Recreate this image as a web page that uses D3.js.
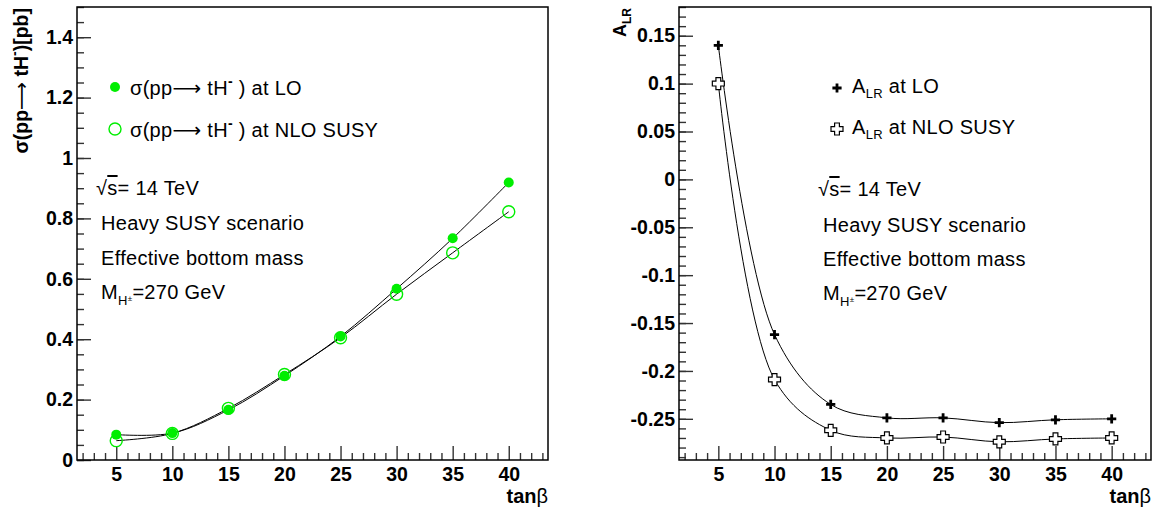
<!DOCTYPE html>
<html>
<head>
<meta charset="utf-8">
<script src="https://cdn.jsdelivr.net/npm/d3@7"></script>
<style>
body { margin: 0; background: #fff; }
svg text { font-family: "Liberation Sans", Arial, Helvetica, sans-serif; fill: #000; }
.arrow { font-family: "DejaVu Sans", sans-serif; }
</style>
</head>
<body>
<svg id="chart" width="1164" height="515"></svg>
<script>
// data
const tanBeta = [5, 10, 15, 20, 25, 30, 35, 40];
const sigmaLO = [0.084, 0.089, 0.166, 0.279, 0.409, 0.567, 0.734, 0.919];
const sigmaNLO = [0.064, 0.088, 0.171, 0.283, 0.405, 0.549, 0.686, 0.822];
const alrLO = [0.140, -0.162, -0.235, -0.249, -0.249, -0.254, -0.251, -0.250];
const alrNLO = [0.100, -0.209, -0.262, -0.270, -0.269, -0.274, -0.271, -0.270];

const xTicks = [5, 10, 15, 20, 25, 30, 35, 40];
const yTicksLeft = [0, 0.2, 0.4, 0.6, 0.8, 1, 1.2, 1.4];
const yTicksRight = [0.15, 0.1, 0.05, 0, -0.05, -0.1, -0.15, -0.2, -0.25];
const infoLines = ["sqrt", "Heavy SUSY scenario", "Effective bottom mass", "mass"];

const svg = d3.select("#chart");
const green = "#00ee00";
const textSize = 20;

// marker shapes
const plusPath = (a, L) => `M${-a},${-L}H${a}V${-a}H${L}V${a}H${a}V${L}H${-a}V${a}H${-L}V${-a}H${-a}Z`;

function drawFrame(g, x, y, yTicks, yMinorStep, labelPad) {
    const [x0, x1] = x.range();
    const [y0, y1] = y.range();

    // minor ticks
    let minorX = d3.range(2, 44).filter(d => d % 5 != 0);
    g.append("g")
        .attr("class", "minor")
        .attr("transform", `translate(0,${y0})`)
        .call(d3.axisBottom(x).tickValues(minorX).tickSize(-7).tickFormat(""));

    let yd = y.domain();
    let minorY = d3.range(Math.ceil(yd[0] / yMinorStep), Math.floor(yd[1] / yMinorStep) + 1)
        .map(k => +(k * yMinorStep).toFixed(4));
    g.append("g")
        .attr("class", "minor")
        .attr("transform", `translate(${x0},0)`)
        .call(d3.axisLeft(y).tickValues(minorY).tickSize(-7).tickFormat(""));

    // major ticks
    g.append("g")
        .attr("class", "major")
        .attr("transform", `translate(0,${y0})`)
        .call(d3.axisBottom(x).tickValues(xTicks).tickSize(-14).tickPadding(7).tickFormat(d => String(d)));

    g.append("g")
        .attr("class", "major")
        .attr("transform", `translate(${x0},0)`)
        .call(d3.axisLeft(y).tickValues(yTicks).tickSize(-14).tickPadding(labelPad).tickFormat(d => String(d)));

    g.selectAll(".domain").remove();
    g.selectAll(".tick line").attr("stroke", "#333").attr("stroke-width", 1.4);
    g.selectAll(".major text")
        .attr("font-size", 19.5)
        .attr("font-weight", "bold")
        .attr("font-family", "'Liberation Sans', Arial, sans-serif")
        .attr("fill", "#000");

    g.append("rect")
        .attr("x", x0).attr("y", y1)
        .attr("width", x1 - x0).attr("height", y0 - y1)
        .attr("fill", "none").attr("stroke", "#000").attr("stroke-width", 1.5);

    // x title
    let t = g.append("text")
        .attr("x", x1).attr("y", 503)
        .attr("text-anchor", "end")
        .attr("font-size", 20);
    t.append("tspan").attr("font-weight", "bold").text("tan");
    t.append("tspan").text("β");
}

function drawInfo(g, xs, ys) {
    infoLines.forEach((line, i) => {
        let t = g.append("text").attr("x", xs[i]).attr("y", ys[i])
            .attr("font-size", textSize).attr("letter-spacing", 0.3);
        if (line == "sqrt") {
            t.append("tspan").text("√");
            t.append("tspan").style("text-decoration", "overline").text("s");
            t.append("tspan").text("= 14 TeV");
        } else if (line == "mass") {
            t.append("tspan").text("M");
            t.append("tspan").attr("dy", 6).attr("font-size", 13).text("H");
            t.append("tspan").attr("dy", -4).attr("font-size", 8).text("±");
            t.append("tspan").attr("dy", -2).text("=270 GeV");
        } else {
            t.text(line);
        }
    });
}

function sigmaText(t, bold) {
    t.append("tspan").text("σ(pp");
    t.append("tspan").attr("class", "arrow").attr("font-weight", "normal").text("⟶");
    t.append("tspan").text(" tH");
    t.append("tspan").attr("dy", -9).attr("font-size", 14).attr("font-weight", "bold").text("-");
    t.append("tspan").attr("dy", 9).text(bold ? ")[pb]" : " ) at ");
}

// ---------- left panel ----------
const xL = d3.scaleLinear().domain([1.5, 43.5]).range([77, 548]);
const yL = d3.scaleLinear().domain([0, 1.5]).range([460, 7]);
const gL = svg.append("g");
drawFrame(gL, xL, yL, yTicksLeft, 0.05, 4);

const lineL = (vals) => d3.line()
    .x((d, i) => xL(tanBeta[i]))
    .y(d => yL(d))
    .curve(d3.curveCatmullRom.alpha(0.5))(vals);

gL.append("path").attr("d", lineL(sigmaLO)).attr("fill", "none").attr("stroke", "#000").attr("stroke-width", 1);
gL.append("path").attr("d", lineL(sigmaNLO)).attr("fill", "none").attr("stroke", "#000").attr("stroke-width", 1);

gL.selectAll("circle.lo").data(sigmaLO).enter().append("circle")
    .attr("class", "lo")
    .attr("cx", (d, i) => xL(tanBeta[i])).attr("cy", d => yL(d))
    .attr("r", 5).attr("fill", green);
gL.selectAll("circle.nlo").data(sigmaNLO).enter().append("circle")
    .attr("class", "nlo")
    .attr("cx", (d, i) => xL(tanBeta[i])).attr("cy", d => yL(d))
    .attr("r", 6).attr("fill", "none").attr("stroke", green).attr("stroke-width", 1.4);

// y title left
let ty = gL.append("text")
    .attr("transform", "translate(28,8) rotate(-90)")
    .attr("text-anchor", "end")
    .attr("font-size", 19.5).attr("font-weight", "bold");
sigmaText(ty, true);

// legend left
["LO", "NLO SUSY"].forEach((s, i) => {
    let cy = 87 + i * 42;
    if (i == 0) {
        gL.append("circle").attr("cx", 115).attr("cy", cy).attr("r", 5).attr("fill", green);
    } else {
        gL.append("circle").attr("cx", 115).attr("cy", cy).attr("r", 6)
            .attr("fill", "none").attr("stroke", green).attr("stroke-width", 1.4);
    }
    let t = gL.append("text").attr("x", 130).attr("y", cy + 8)
        .attr("font-size", textSize).attr("letter-spacing", 0.3);
    sigmaText(t, false);
    t.append("tspan").text(s);
});

drawInfo(gL, [96, 101, 101, 101], [195, 230, 265, 299]);

// ---------- right panel ----------
const xR = d3.scaleLinear().domain([1.5, 43.5]).range([679, 1151]);
const yR = d3.scaleLinear().domain([-0.293, 0.18]).range([460, 7]);
const gR = svg.append("g");
drawFrame(gR, xR, yR, yTicksRight, 0.01, 4);

const lineR = (vals) => d3.line()
    .x((d, i) => xR(tanBeta[i]))
    .y(d => yR(d))
    .curve(d3.curveCatmullRom.alpha(0.5))(vals);

gR.append("path").attr("d", lineR(alrLO)).attr("fill", "none").attr("stroke", "#000").attr("stroke-width", 1);
gR.append("path").attr("d", lineR(alrNLO)).attr("fill", "none").attr("stroke", "#000").attr("stroke-width", 1);

gR.selectAll("path.lo").data(alrLO).enter().append("path")
    .attr("class", "lo")
    .attr("transform", (d, i) => `translate(${xR(tanBeta[i])},${yR(d)})`)
    .attr("d", plusPath(1.4, 4.6)).attr("fill", "#000");
gR.selectAll("path.nlo").data(alrNLO).enter().append("path")
    .attr("class", "nlo")
    .attr("transform", (d, i) => `translate(${xR(tanBeta[i])},${yR(d)})`)
    .attr("d", plusPath(2.4, 6)).attr("fill", "#fff").attr("stroke", "#000").attr("stroke-width", 1.2);

// y title right
let tyR = gR.append("text")
    .attr("transform", "translate(626,8) rotate(-90)")
    .attr("text-anchor", "end")
    .attr("font-size", 18).attr("font-weight", "bold");
tyR.append("tspan").text("A");
tyR.append("tspan").attr("dy", 5).attr("font-size", 12).text("LR");

// legend right
["LO", "NLO SUSY"].forEach((s, i) => {
    let cy = 88 + i * 41;
    if (i == 0) {
        gR.append("path").attr("transform", `translate(837,${cy})`).attr("d", plusPath(1.4, 4.6)).attr("fill", "#000");
    } else {
        gR.append("path").attr("transform", `translate(837,${cy})`).attr("d", plusPath(2.4, 6))
            .attr("fill", "#fff").attr("stroke", "#000").attr("stroke-width", 1.2);
    }
    let t = gR.append("text").attr("x", 852).attr("y", cy + 5)
        .attr("font-size", textSize).attr("letter-spacing", 0.3);
    t.append("tspan").text("A");
    t.append("tspan").attr("dy", 5).attr("font-size", 13).text("LR");
    t.append("tspan").attr("dy", -5).text(" at " + s);
});

drawInfo(gR, [818, 823, 823, 823], [196, 232, 266, 300]);
</script>
</body>
</html>
